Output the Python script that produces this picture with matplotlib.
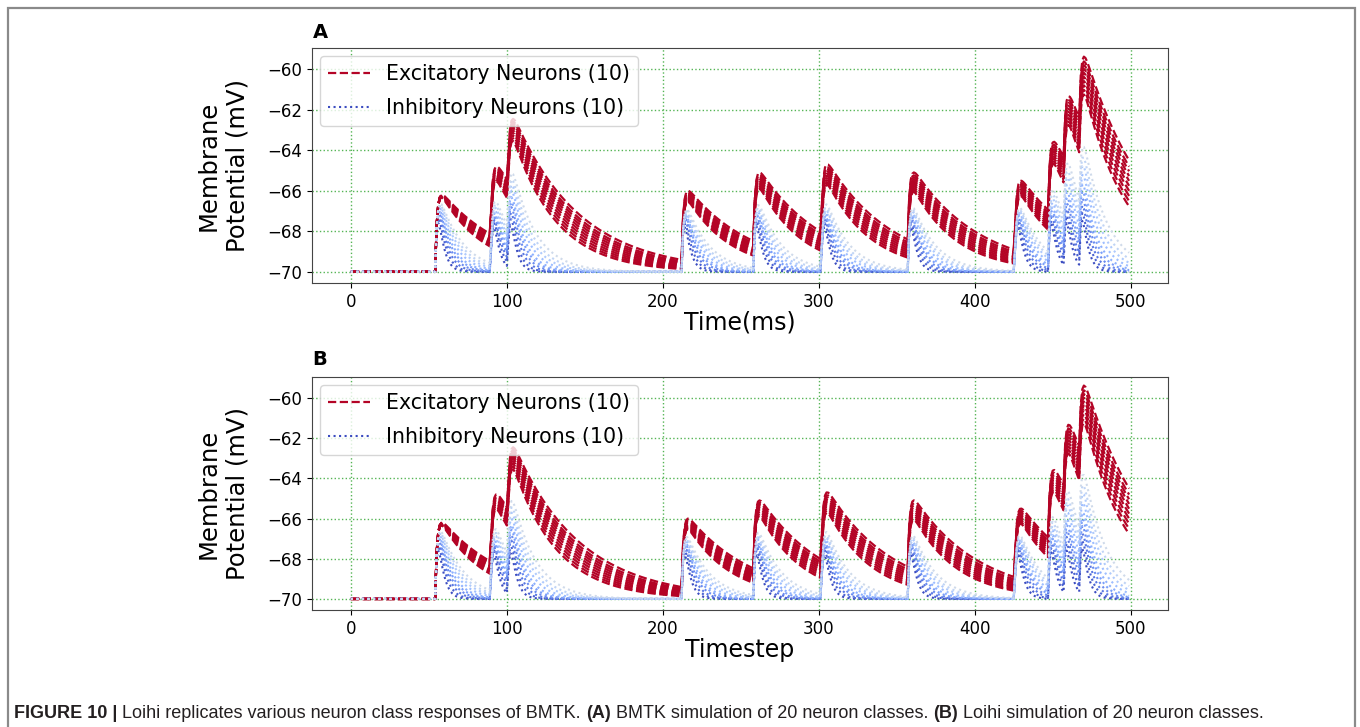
import numpy as np
import matplotlib
matplotlib.use("Agg")
import matplotlib.pyplot as plt
from matplotlib.patches import Rectangle

# input spike times (ms) and the excitatory peak potentials
event_times = [54, 89.5, 100.5, 212, 258, 301.5, 357, 425.5, 447, 457, 467]
exc_peaks = [-66.2, -64.8, -62.5, -66.0, -65.1, -64.7, -65.1, -65.5, -63.6, -61.4, -59.5]

# membrane time constants (ms) of the 10 + 10 neuron classes
exc_tau = [28, 29.5, 31, 32.5, 34, 35.5, 37, 38.5, 40, 42]
inh_tau = [3.5, 4.5, 5.5, 6.5, 7.5, 8.5, 10, 11.5, 13, 15]
syn_tau = 1.2
v_rest = -70.0

t = np.arange(0, 500, 1.0)


def kern(s, tau_m, tau_s=syn_tau):
    s = np.asarray(s, dtype=float)
    out = tau_m / (tau_m - tau_s) * (np.exp(-s / tau_m) - np.exp(-s / tau_s))
    return np.where(s >= 0, out, 0.0)


# solve synaptic weights so the slowest excitatory neuron hits the peaks
tau_ref = exc_tau[-1]
s_star = np.log(tau_ref / syn_tau) * tau_ref * syn_tau / (tau_ref - syn_tau)
weights = []
for k, (tk, pk) in enumerate(zip(event_times, exc_peaks)):
    res = sum(weights[j] * kern(tk + s_star - event_times[j], tau_ref) for j in range(k))
    weights.append((pk - v_rest - res) / kern(s_star, tau_ref))


def trace(tau_m):
    v = np.full_like(t, v_rest)
    for tk, w in zip(event_times, weights):
        v = v + w * kern(t - tk, tau_m)
    return v


exc_color = plt.cm.coolwarm(1.0)
inh_colors = plt.cm.coolwarm(np.linspace(0.0, 0.45, len(inh_tau)))

fig = plt.figure(figsize=(13.6, 7.27), dpi=100)
fig.patches.append(Rectangle((7.5 / 1360, -0.05), 1347 / 1360, 1 - 8 / 727 + 0.05,
                             transform=fig.transFigure, fill=False,
                             edgecolor="#8a8a8a", linewidth=1.6))

ax_a = fig.add_axes([312 / 1360, 1 - 283 / 727, 856 / 1360, 235 / 727])
ax_b = fig.add_axes([312 / 1360, 1 - 610 / 727, 856 / 1360, 233 / 727])

for ax, xlabel in [(ax_a, "Time(ms)"), (ax_b, "Timestep")]:
    for i, tau in enumerate(exc_tau):
        ax.plot(t, trace(tau), "--", color=exc_color, lw=1.6,
                label="Excitatory Neurons (10)" if i == 0 else None)
    for i, tau in enumerate(inh_tau):
        ax.plot(t, trace(tau), ":", color=inh_colors[i], lw=1.5,
                label="Inhibitory Neurons (10)" if i == 0 else None)
    ax.grid(True, color="#55b555", linestyle=":", linewidth=1.0)
    ax.set_xticks([0, 100, 200, 300, 400, 500])
    ax.set_yticks([-70, -68, -66, -64, -62, -60])
    ax.set_ylim(-70.55, -58.95)
    ax.tick_params(labelsize=12)
    ax.set_xlabel(xlabel, fontsize=17, labelpad=0)
    ax.set_ylabel("Membrane\nPotential (mV)", fontsize=17.5, linespacing=1.25, labelpad=13)
    for sp in ax.spines.values():
        sp.set_color("#444444")
    ax.legend(loc="upper left", fontsize=14.8, borderaxespad=0.4, labelspacing=0.65)

fig.text(320 / 1360, 1 - 32 / 727, "A", fontsize=14, fontweight="bold", ha="center", va="center")
fig.text(320 / 1360, 1 - 360 / 727, "B", fontsize=14, fontweight="bold", ha="center", va="center")

# caption, mixed bold / regular pieces
caption = [("FIGURE 10 |", "bold"), (" Loihi replicates various neuron class responses of BMTK. ", "normal"),
           ("(A)", "bold"), (" BMTK simulation of 20 neuron classes. ", "normal"),
           ("(B)", "bold"), (" Loihi simulation of 20 neuron classes.", "normal")]
renderer = fig.canvas.get_renderer()
x = 14
for txt, wt in caption:
    tx = fig.text(x / 1360, 1 - 718 / 727, txt, fontsize=13, fontweight=wt,
                  family=["Liberation Sans", "DejaVu Sans"],
                  color="#231f20", va="baseline", ha="left")
    bb = tx.get_window_extent(renderer)
    x += bb.width

fig.savefig("out.png", dpi=100)
